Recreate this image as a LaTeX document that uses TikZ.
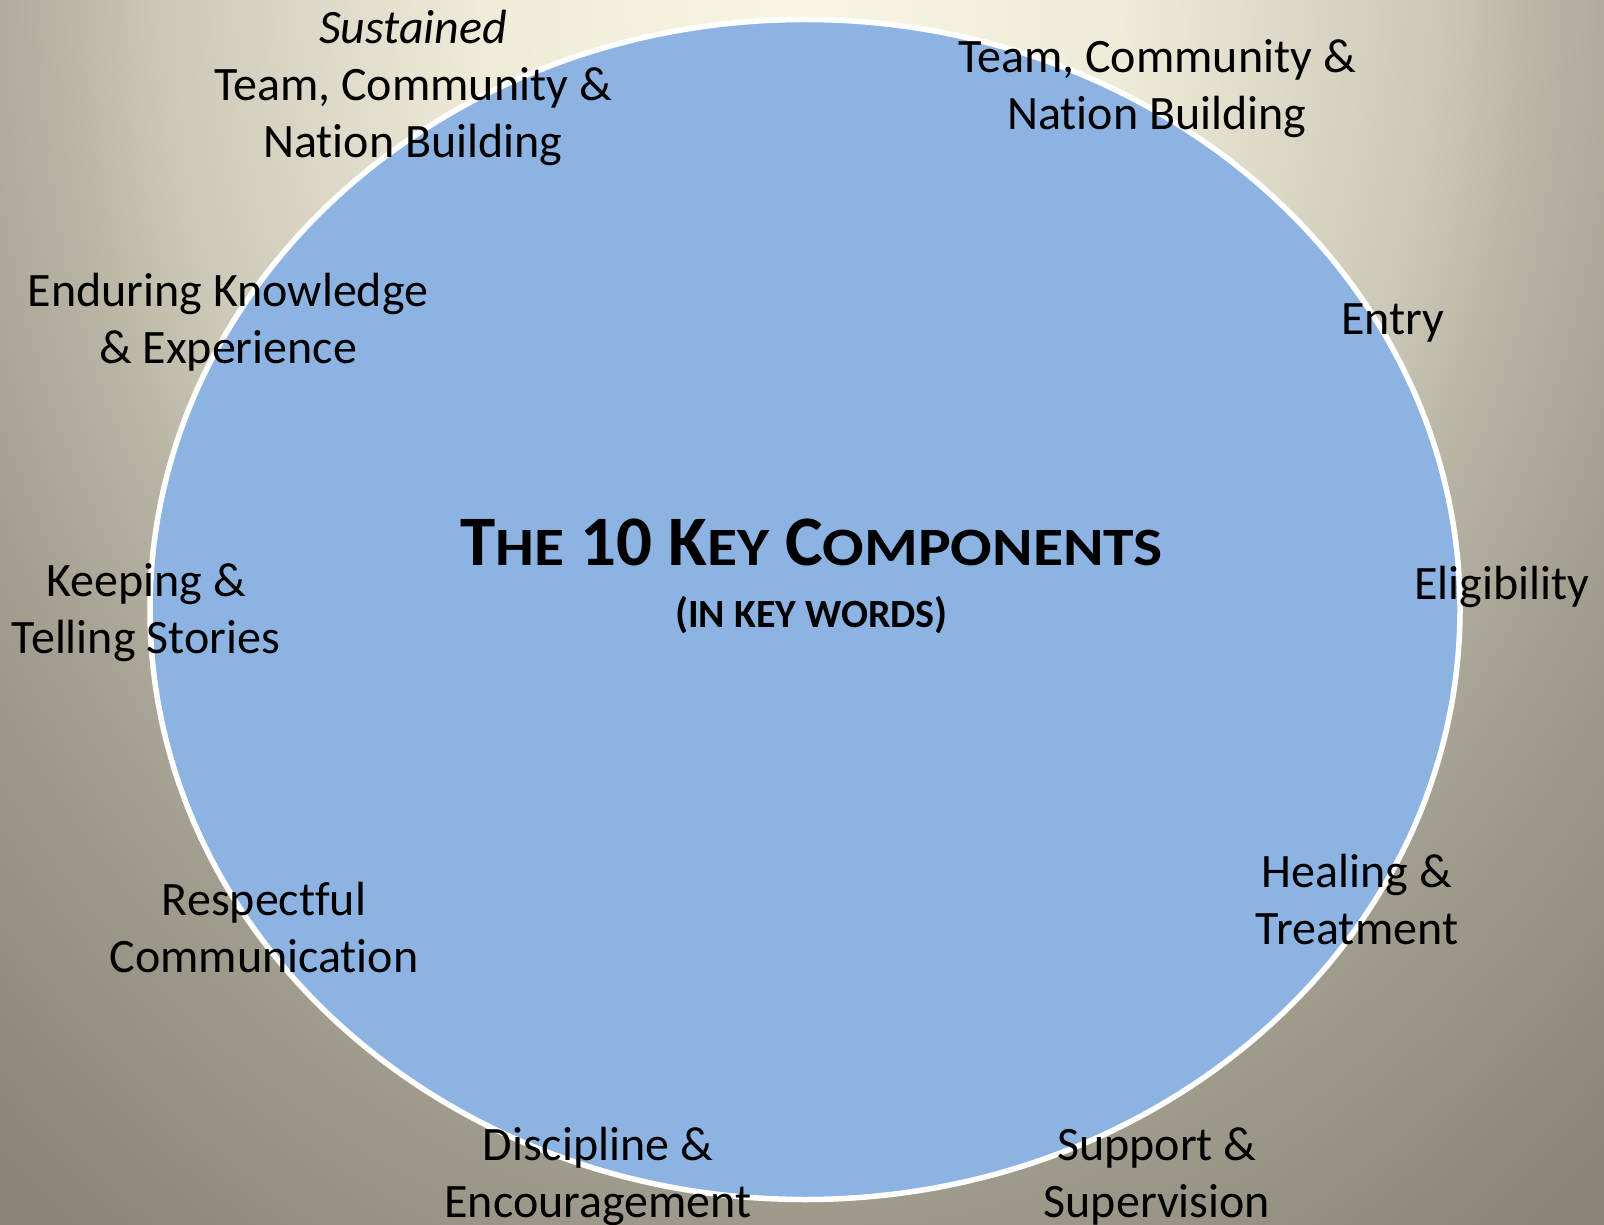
\documentclass[tikz,border=0pt]{standalone}
\usepackage{fontspec}
\usepackage{graphicx}
\setmainfont{Carlito}[Ligatures=NoCommon]
\definecolor{bgA}{HTML}{F8F5E3}
\definecolor{bgB}{HTML}{EEEBD9}
\definecolor{bgC}{HTML}{CBC8B8}
\definecolor{bgD}{HTML}{B8B5A5}
\definecolor{bgE}{HTML}{A29E8F}
\definecolor{bgF}{HTML}{8B877A}
\definecolor{bgG}{HTML}{8A8679}
\definecolor{ovalblue}{HTML}{8DB3E2}
\pgfdeclareradialshading{bgshade}{\pgfpoint{0bp}{0bp}}{color(0bp)=(bgA); color(6.1bp)=(bgB); color(12.2bp)=(bgC); color(14.1bp)=(bgD); color(17.4bp)=(bgE); color(22.6bp)=(bgF); color(23.5bp)=(bgG); color(50bp)=(bgG)}
\newcommand\smc[1]{\scalebox{1.14}[1]{\fontsize{54}{60}\selectfont #1}}
\newcommand\subsmc[1]{{\fontsize{40}{44}\selectfont #1}}
\begin{document}
\begin{tikzpicture}[x=1pt,y=-1pt,
  lbl/.style={font=\fontsize{48}{57}\selectfont, align=center, inner sep=0pt, anchor=base, text=black}]
\useasboundingbox (0,0) rectangle (1604,1225);
\begin{scope}
\clip (0,0) rectangle (1604,1225);
\shade[shading=bgshade] (-510,-1656) rectangle (2110,1656);
\end{scope}
\draw[white, line width=5.5pt, fill=ovalblue] (805,609.5) ellipse [x radius=655, y radius=590];
\node[inner sep=0pt, anchor=base, font=\bfseries] (title) at (811.5,565)
  {\fontsize{71}{80}\selectfont T\smc{HE} 10 K\smc{EY} C\smc{OMPONENTS}};
\node[inner sep=0pt, anchor=base, font=\bfseries] (subtitle) at (811.5,627)
  {\fontsize{42}{48}\selectfont (\subsmc{IN KEY WORDS})};
\node[lbl] (sus) at (413,158) {\textit{Sustained}\\Team, Community \&\\Nation Building};
\node[lbl] (tcn) at (1157,130) {Team, Community \&\\Nation Building};
\node[lbl] (entry) at (1393,334) {Entry};
\node[lbl] (elig) at (1502,599) {Eligibility};
\node[lbl] (heal) at (1357,944) {Healing \&\\Treatment};
\node[lbl] (supp) at (1157,1217) {Support \&\\Supervision};
\node[lbl] (disc) at (598,1217) {Discipline \&\\Encouragement};
\node[lbl] (resp) at (264,972) {Respectful\\Communication};
\node[lbl] (keep) at (146,653) {Keeping \&\\Telling Stories};
\node[lbl] (endu) at (228,363) {Enduring Knowledge\\\& Experience};
\end{tikzpicture}
\end{document}
